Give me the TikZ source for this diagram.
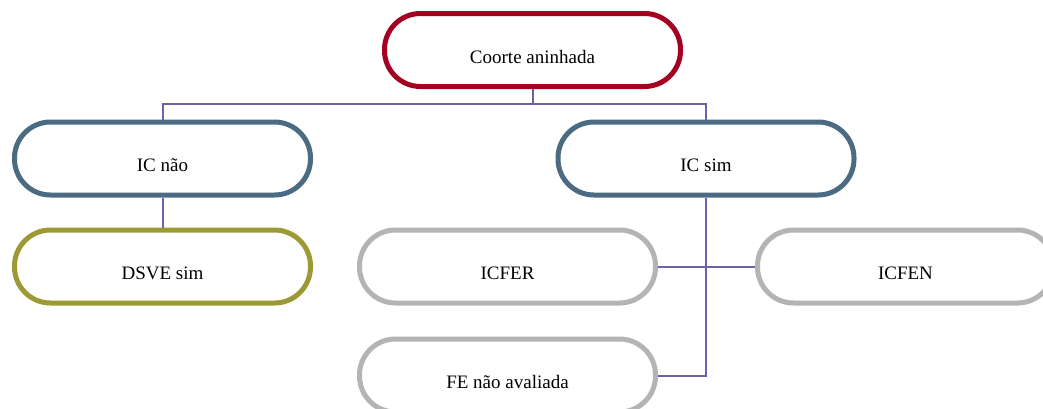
\documentclass[tikz,border=0pt]{standalone}
\usepackage{fontspec}
\setmainfont{Liberation Serif}
\definecolor{cred}{HTML}{A50021}
\definecolor{cblue}{HTML}{4A6B82}
\definecolor{colive}{HTML}{9C9A34}
\definecolor{cgray}{HTML}{B4B4B4}
\definecolor{cline}{HTML}{6B63A6}
\tikzset{
  pill/.style={draw=#1, line width=5pt, fill=white, rectangle, rounded corners=36pt,
    minimum width=296pt, minimum height=73pt, inner sep=0pt,
    text height=26pt, text depth=0pt,
    font=\fontsize{19}{23}\selectfont},
  conn/.style={draw=cline, line width=2pt}
}
\begin{document}
\begin{tikzpicture}[x=1pt,y=-1pt]
\useasboundingbox (0,0) rectangle (1043,408);
\clip (0,0) rectangle (1043,408);
\fill[white] (0,0) rectangle (1043,408);
% nodes
\node[pill=cred]   (coorte) at (532.5,50)    {Coorte aninhada};
\node[pill=cblue]  (icnao)  at (162.5,158.5) {IC não};
\node[pill=cblue]  (icsim)  at (706,158.5)   {IC sim};
\node[pill=colive] (dsve)   at (162.5,266.5) {DSVE sim};
\node[pill=cgray]  (icfer)  at (507.5,266.5) {ICFER};
\node[pill=cgray]  (icfen)  at (905.5,266.5) {ICFEN};
\node[pill=cgray]  (fe)     at (507.5,375.5) {FE não avaliada};
% connectors
\coordinate (bus) at (532.5,104);
\path[conn] (coorte.south) -- (bus);
\path[conn] (icnao.north) |- (bus) -| (icsim.north);
\path[conn] (icnao.south) -- (dsve.north);
\path[conn] (icsim.south) |- (fe.east);
\path[conn] (icfer.east) -- (icfen.west);
\end{tikzpicture}
\end{document}
